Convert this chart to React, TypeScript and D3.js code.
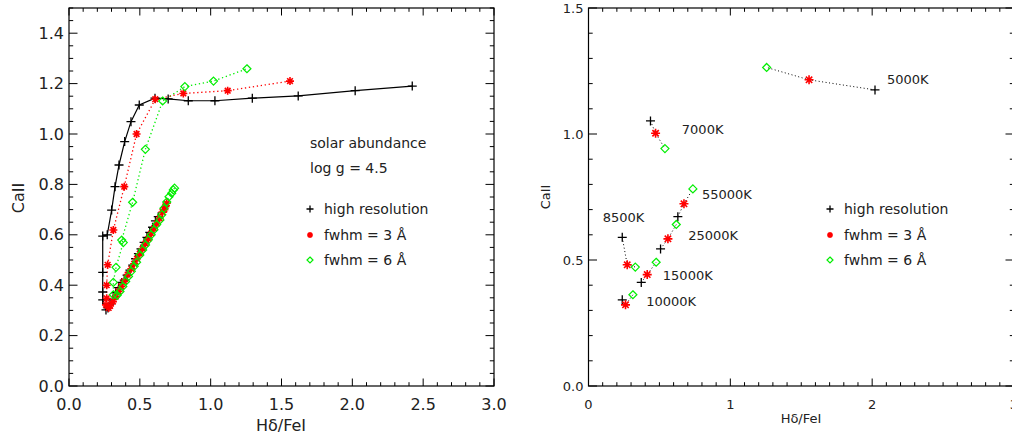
import React from 'react';
import * as d3 from 'd3';

// ---------- DATA ----------
// Left panel: full sequences (hot end of diagonal -> cool end)
const hiresSeq: [number, number][] = [
  [0.63, 0.672], [0.61, 0.655], [0.59, 0.63], [0.57, 0.61], [0.55, 0.59], [0.53, 0.57],
  [0.508, 0.544], [0.49, 0.525], [0.47, 0.505], [0.45, 0.48], [0.43, 0.46], [0.41, 0.44],
  [0.39, 0.42], [0.372, 0.411], [0.35, 0.39], [0.33, 0.37], [0.31, 0.345], [0.29, 0.325],
  [0.275, 0.31], [0.261, 0.302], [0.238, 0.342], [0.238, 0.373], [0.238, 0.451], [0.238, 0.595],
  [0.27, 0.6], [0.301, 0.698], [0.325, 0.791], [0.353, 0.877], [0.393, 0.97], [0.4375, 1.049],
  [0.496, 1.115], [0.607, 1.142], [0.7, 1.139], [0.842, 1.132], [1.03, 1.132], [1.294, 1.142],
  [1.618, 1.151], [2.02, 1.172], [2.423, 1.19],
];
const fwhm3Seq: [number, number][] = [
  [0.69, 0.725], [0.68, 0.712], [0.673, 0.7], [0.66, 0.69], [0.64, 0.665], [0.62, 0.645],
  [0.6, 0.625], [0.58, 0.605], [0.56, 0.584], [0.54, 0.565], [0.52, 0.545], [0.5, 0.525],
  [0.48, 0.505], [0.46, 0.485], [0.44, 0.465], [0.414, 0.442], [0.39, 0.415], [0.37, 0.395],
  [0.35, 0.375], [0.33, 0.355], [0.31, 0.335], [0.29, 0.318], [0.28, 0.31], [0.261, 0.322],
  [0.266, 0.348], [0.266, 0.4], [0.273, 0.481], [0.313, 0.619], [0.39, 0.791], [0.477, 1.0],
  [0.609, 1.138], [0.807, 1.161], [1.12, 1.172], [1.56, 1.21],
];
const fwhm6Seq: [number, number][] = [
  [0.745, 0.785], [0.736, 0.778], [0.725, 0.765], [0.706, 0.751], [0.69, 0.73], [0.67, 0.705],
  [0.655, 0.68], [0.642, 0.659], [0.619, 0.641], [0.6, 0.62], [0.58, 0.6], [0.56, 0.58],
  [0.54, 0.56], [0.52, 0.54], [0.5, 0.52], [0.477, 0.491], [0.46, 0.475], [0.44, 0.455],
  [0.42, 0.435], [0.4, 0.415], [0.38, 0.395], [0.36, 0.375], [0.34, 0.36], [0.313, 0.362],
  [0.313, 0.411], [0.332, 0.471], [0.383, 0.569], [0.372, 0.579], [0.449, 0.729], [0.539, 0.939],
  [0.661, 1.131], [0.818, 1.188], [1.02, 1.21], [1.256, 1.259],
];

// Right panel: selected temperatures
const temps = ['5000K', '7000K', '8500K', '10000K', '15000K', '25000K', '55000K'];
const hiresPts: [number, number][] = [
  [2.02, 1.175], [0.437, 1.052], [0.238, 0.59], [0.238, 0.342], [0.372, 0.411], [0.508, 0.544], [0.63, 0.672],
];
const fwhm3Pts: [number, number][] = [
  [1.555, 1.215], [0.473, 1.003], [0.273, 0.481], [0.261, 0.322], [0.414, 0.442], [0.56, 0.584], [0.673, 0.723],
];
const fwhm6Pts: [number, number][] = [
  [1.256, 1.264], [0.539, 0.942], [0.33, 0.472], [0.313, 0.362], [0.477, 0.491], [0.619, 0.641], [0.736, 0.782],
];
// Temperature label anchors (data units)
const tempLabelPos: [number, number][] = [
  [2.104, 1.218], [0.658, 1.016], [0.1, 0.667], [0.407, 0.337], [0.524, 0.437], [0.703, 0.596], [0.8, 0.758],
];

const legendLabels = ['high resolution', 'fwhm = 3 Å', 'fwhm = 6 Å'];
const noteLabels = ['solar abundance', 'log g = 4.5'];

const leftXTicks = [0, 0.5, 1.0, 1.5, 2.0, 2.5, 3.0];
const leftYTicks = [0, 0.2, 0.4, 0.6, 0.8, 1.0, 1.2, 1.4];
const rightXTicks = [0, 1, 2, 3];
const rightYTicks = [0, 0.5, 1.0, 1.5];

// ---------- DRAWING ----------
const FONT = '"DejaVu Sans", sans-serif';
const RED = '#ff0000';
const GREEN = '#00ee00';

function Plus({ x, y, s = 4.5 }: { x: number; y: number; s?: number }) {
  return (
    <path d={`M${x - s},${y}H${x + s}M${x},${y - s}V${y + s}`} stroke="#000" strokeWidth={1.3} fill="none" />
  );
}
function Star({ x, y, s = 4 }: { x: number; y: number; s?: number }) {
  const d = [0, 45, 90, 135]
    .map((a) => {
      const r = (a * Math.PI) / 180;
      const dx = Math.cos(r) * s, dy = Math.sin(r) * s;
      return `M${x - dx},${y - dy}L${x + dx},${y + dy}`;
    })
    .join('');
  return <path d={d} stroke={RED} strokeWidth={1.6} fill="none" />;
}
function Diamond({ x, y, s = 4 }: { x: number; y: number; s?: number }) {
  return (
    <path d={`M${x},${y - s}L${x + s},${y}L${x},${y + s}L${x - s},${y}Z`} stroke={GREEN} strokeWidth={1.2} fill="none" />
  );
}

interface AxisCfg {
  x0: number; x1: number; y0: number; y1: number;
  xTicks: number[]; yTicks: number[];
  xMinor: number; yMinor: number;
  xFmt: (v: number) => string; yFmt: (v: number) => string;
  font: number;
}

function Frame({ c }: { c: AxisCfg }) {
  const x = d3.scaleLinear().domain([0, 3]).range([c.x0, c.x1]);
  const y = d3.scaleLinear().domain([0, 1.5]).range([c.y1, c.y0]);
  const xMinorVals = d3.range(0, 3 + 1e-9, c.xMinor);
  const yMinorVals = d3.range(0, 1.5 + 1e-9, c.yMinor);
  const xMaj = 7.5, xMin = 3.8, yMaj = 8.5, yMin = 4.2;
  const els: React.ReactNode[] = [];
  xMinorVals.forEach((v, i) => {
    const major = c.xTicks.some((t) => Math.abs(t - v) < 1e-6);
    const L = major ? xMaj : xMin;
    els.push(<line key={'xb' + i} x1={x(v)} x2={x(v)} y1={c.y1} y2={c.y1 - L} stroke="#000" />);
    els.push(<line key={'xt' + i} x1={x(v)} x2={x(v)} y1={c.y0} y2={c.y0 + L} stroke="#000" />);
  });
  yMinorVals.forEach((v, i) => {
    const major = c.yTicks.some((t) => Math.abs(t - v) < 1e-6) || Math.abs(v - 1.5) < 1e-6 && false;
    const L = major ? yMaj : yMin;
    els.push(<line key={'yl' + i} x1={c.x0} x2={c.x0 + L} y1={y(v)} y2={y(v)} stroke="#000" />);
    els.push(<line key={'yr' + i} x1={c.x1} x2={c.x1 - L} y1={y(v)} y2={y(v)} stroke="#000" />);
  });
  return (
    <g>
      <rect x={c.x0} y={c.y0} width={c.x1 - c.x0} height={c.y1 - c.y0} fill="none" stroke="#000" strokeWidth={1.2} />
      {els}
      {c.xTicks.map((t, i) => (
        <text key={'xl' + i} x={x(t)} y={c.y1 + 18} textAnchor="middle" dominantBaseline="central"
          fontSize={c.font} fontFamily={FONT} fill="#222">{c.xFmt(t)}</text>
      ))}
      {c.yTicks.map((t, i) => (
        <text key={'yl' + i} x={c.x0 - 5} y={y(t)} textAnchor="end" dominantBaseline="central"
          fontSize={c.font} fontFamily={FONT} fill="#222">{c.yFmt(t)}</text>
      ))}
    </g>
  );
}

export default function App() {
  const L = { x0: 69, x1: 494, y0: 8, y1: 386 };
  const R = { x0: 588.5, x1: 1014, y0: 8, y1: 386 };
  const lx = d3.scaleLinear().domain([0, 3]).range([L.x0, L.x1]);
  const ly = d3.scaleLinear().domain([0, 1.5]).range([L.y1, L.y0]);
  const rx = d3.scaleLinear().domain([0, 3]).range([R.x0, R.x1]);
  const ry = d3.scaleLinear().domain([0, 1.5]).range([R.y1, R.y0]);
  const lineL = d3.line<[number, number]>().x((d) => lx(d[0])).y((d) => ly(d[1]));
  const lineR = d3.line<[number, number]>().x((d) => rx(d[0])).y((d) => ry(d[1]));

  const legendY = [209, 235, 260];

  return (
    <svg width={1012} height={434} style={{ position: 'absolute', left: 0, top: 0, background: '#fff' }}>
      <rect x={0} y={0} width={1012} height={434} fill="#fff" />
      {/* LEFT PANEL */}
      <Frame c={{ ...L, xTicks: leftXTicks, yTicks: leftYTicks, xMinor: 0.1, yMinor: 0.05,
        xFmt: (v) => v.toFixed(1), yFmt: (v) => v.toFixed(1), font: 16 }} />
      <path d={lineL(fwhm6Seq) || ''} fill="none" stroke={GREEN} strokeWidth={1.3} strokeDasharray="1.3 2.7" />
      <path d={lineL(fwhm3Seq) || ''} fill="none" stroke={RED} strokeWidth={1.3} strokeDasharray="1.3 2.7" />
      <path d={lineL(hiresSeq) || ''} fill="none" stroke="#000" strokeWidth={1.2} />
      {hiresSeq.map((d, i) => <Plus key={'lh' + i} x={lx(d[0])} y={ly(d[1])} />)}
      {fwhm3Seq.map((d, i) => <Star key={'l3' + i} x={lx(d[0])} y={ly(d[1])} />)}
      {fwhm6Seq.map((d, i) => <Diamond key={'l6' + i} x={lx(d[0])} y={ly(d[1])} />)}
      {noteLabels.map((t, i) => (
        <text key={'n' + i} x={310} y={143 + i * 25} dominantBaseline="central" fontSize={14}
          fontFamily={FONT} fill="#222" style={{ whiteSpace: 'pre' }}>{t}</text>
      ))}
      <Plus x={310} y={legendY[0]} s={3.5} />
      <Star x={310} y={legendY[1]} s={3} />
      <Diamond x={310} y={legendY[2]} s={3} />
      {legendLabels.map((t, i) => (
        <text key={'lg' + i} x={324} y={legendY[i]} dominantBaseline="central" fontSize={14}
          fontFamily={FONT} fill="#222">{t}</text>
      ))}
      <text x={281} y={425} textAnchor="middle" dominantBaseline="central" fontSize={16} fontFamily={FONT} fill="#222">Hδ/FeI</text>
      <text transform="translate(18,198) rotate(-90)" textAnchor="middle" dominantBaseline="central" fontSize={16} fontFamily={FONT} fill="#222">CaII</text>

      {/* RIGHT PANEL */}
      <Frame c={{ ...R, xTicks: rightXTicks, yTicks: rightYTicks, xMinor: 0.1, yMinor: 0.1,
        xFmt: (v) => String(v), yFmt: (v) => v.toFixed(1), font: 13 }} />
      {temps.map((t, i) => (
        <path key={'rl' + i} d={lineR([hiresPts[i], fwhm3Pts[i], fwhm6Pts[i]]) || ''} fill="none"
          stroke="#000" strokeWidth={1} strokeDasharray="1 2.5" />
      ))}
      {hiresPts.map((d, i) => <Plus key={'rh' + i} x={rx(d[0])} y={ry(d[1])} />)}
      {fwhm3Pts.map((d, i) => <Star key={'r3' + i} x={rx(d[0])} y={ry(d[1])} s={4.5} />)}
      {fwhm6Pts.map((d, i) => <Diamond key={'r6' + i} x={rx(d[0])} y={ry(d[1])} />)}
      {temps.map((t, i) => (
        <text key={'tl' + i} x={rx(tempLabelPos[i][0])} y={ry(tempLabelPos[i][1])} dominantBaseline="central"
          fontSize={13} fontFamily={FONT} fill="#222">{t}</text>
      ))}
      <Plus x={830} y={legendY[0]} s={3.5} />
      <Star x={830} y={legendY[1]} s={3} />
      <Diamond x={830} y={legendY[2]} s={3} />
      {legendLabels.map((t, i) => (
        <text key={'rg' + i} x={844} y={legendY[i]} dominantBaseline="central" fontSize={14}
          fontFamily={FONT} fill="#222">{t}</text>
      ))}
      <text x={801} y={418} textAnchor="middle" dominantBaseline="central" fontSize={13} fontFamily={FONT} fill="#222">Hδ/FeI</text>
      <text transform="translate(545,197) rotate(-90)" textAnchor="middle" dominantBaseline="central" fontSize={13} fontFamily={FONT} fill="#222">CaII</text>
    </svg>
  );
}
